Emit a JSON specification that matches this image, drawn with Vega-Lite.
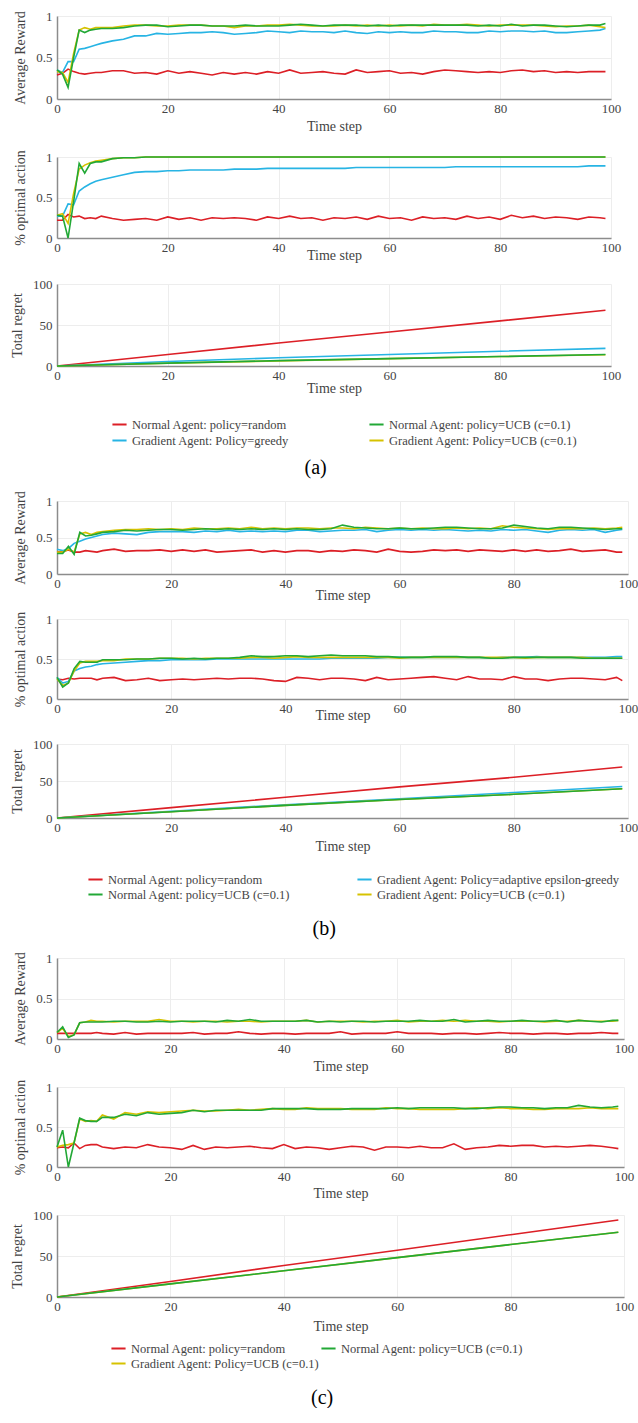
{
"$schema": "https://vega.github.io/schema/vega-lite/v6.json",
"padding": {"left": 10, "top": 10, "right": 0, "bottom": 0},
"spacing": 12,
"resolve": {"scale": {"color": "independent"}},
"datasets": {
"aR": [
{"t":0,"R":0.29,"G":0.35,"N":0.35,"U":0.33},{"t":1,"R":0.31,"G":0.32,"N":0.30,"U":0.32},{"t":2,"R":0.36,"G":0.45,"N":0.14,"U":0.20},{"t":3,"R":0.33,"G":0.45,"N":0.50,"U":0.55},{"t":4,"R":0.31,"G":0.60,"N":0.83,"U":0.83},{"t":5,"R":0.30,"G":0.61,"N":0.80,"U":0.86},{"t":6,"R":0.31,"G":0.63,"N":0.83,"U":0.84},{"t":7,"R":0.32,"G":0.65,"N":0.84,"U":0.86},{"t":8,"R":0.32,"G":0.67,"N":0.85,"U":0.86},
{"t":10,"R":0.34,"G":0.70,"N":0.85,"U":0.86},{"t":12,"R":0.34,"G":0.72,"N":0.86,"U":0.88},{"t":14,"R":0.31,"G":0.76,"N":0.88,"U":0.89},{"t":16,"R":0.32,"G":0.76,"N":0.89,"U":0.89},{"t":18,"R":0.30,"G":0.79,"N":0.89,"U":0.88},{"t":20,"R":0.34,"G":0.78,"N":0.87,"U":0.88},{"t":22,"R":0.31,"G":0.79,"N":0.88,"U":0.89},{"t":24,"R":0.33,"G":0.80,"N":0.89,"U":0.89},{"t":26,"R":0.31,"G":0.80,"N":0.89,"U":0.89},{"t":28,"R":0.29,"G":0.81,"N":0.88,"U":0.88},
{"t":30,"R":0.32,"G":0.80,"N":0.88,"U":0.88},{"t":32,"R":0.30,"G":0.78,"N":0.88,"U":0.86},{"t":34,"R":0.32,"G":0.79,"N":0.89,"U":0.88},{"t":36,"R":0.30,"G":0.80,"N":0.88,"U":0.88},{"t":38,"R":0.33,"G":0.82,"N":0.88,"U":0.89},{"t":40,"R":0.31,"G":0.81,"N":0.88,"U":0.89},{"t":42,"R":0.35,"G":0.80,"N":0.89,"U":0.90},{"t":44,"R":0.31,"G":0.82,"N":0.90,"U":0.89},{"t":46,"R":0.32,"G":0.81,"N":0.89,"U":0.88},{"t":48,"R":0.33,"G":0.81,"N":0.88,"U":0.88},
{"t":50,"R":0.31,"G":0.80,"N":0.89,"U":0.88},{"t":52,"R":0.30,"G":0.82,"N":0.89,"U":0.89},{"t":54,"R":0.35,"G":0.80,"N":0.89,"U":0.88},{"t":56,"R":0.32,"G":0.79,"N":0.88,"U":0.89},{"t":58,"R":0.33,"G":0.81,"N":0.89,"U":0.88},{"t":60,"R":0.34,"G":0.80,"N":0.88,"U":0.89},{"t":62,"R":0.31,"G":0.81,"N":0.89,"U":0.88},{"t":64,"R":0.32,"G":0.80,"N":0.89,"U":0.89},{"t":66,"R":0.30,"G":0.80,"N":0.89,"U":0.88},{"t":68,"R":0.33,"G":0.82,"N":0.89,"U":0.90},
{"t":70,"R":0.35,"G":0.81,"N":0.89,"U":0.89},{"t":72,"R":0.34,"G":0.81,"N":0.89,"U":0.89},{"t":74,"R":0.33,"G":0.80,"N":0.89,"U":0.90},{"t":76,"R":0.32,"G":0.80,"N":0.88,"U":0.89},{"t":78,"R":0.33,"G":0.82,"N":0.89,"U":0.88},{"t":80,"R":0.32,"G":0.81,"N":0.88,"U":0.89},{"t":82,"R":0.34,"G":0.82,"N":0.90,"U":0.89},{"t":84,"R":0.35,"G":0.82,"N":0.88,"U":0.89},{"t":86,"R":0.33,"G":0.81,"N":0.89,"U":0.89},{"t":88,"R":0.34,"G":0.82,"N":0.89,"U":0.88},
{"t":90,"R":0.32,"G":0.80,"N":0.88,"U":0.87},{"t":92,"R":0.33,"G":0.80,"N":0.87,"U":0.88},{"t":94,"R":0.32,"G":0.81,"N":0.88,"U":0.88},{"t":96,"R":0.33,"G":0.82,"N":0.89,"U":0.89},{"t":98,"R":0.33,"G":0.83,"N":0.89,"U":0.87},{"t":99,"R":0.33,"G":0.85,"N":0.91,"U":0.86}
],
"aO": [
{"t":0,"R":0.22,"G":0.27,"N":0.28,"U":0.28},{"t":1,"R":0.22,"G":0.27,"N":0.27,"U":0.30},{"t":2,"R":0.29,"G":0.42,"N":0.00,"U":0.18},{"t":3,"R":0.26,"G":0.41,"N":0.45,"U":0.55},{"t":4,"R":0.27,"G":0.58,"N":0.92,"U":0.85},{"t":5,"R":0.24,"G":0.63,"N":0.80,"U":0.90},{"t":6,"R":0.25,"G":0.67,"N":0.92,"U":0.93},{"t":7,"R":0.24,"G":0.70,"N":0.94,"U":0.95},{"t":8,"R":0.27,"G":0.72,"N":0.94,"U":0.96},
{"t":10,"R":0.24,"G":0.75,"N":0.98,"U":0.98},{"t":12,"R":0.22,"G":0.78,"N":0.99,"U":0.99},{"t":14,"R":0.23,"G":0.81,"N":0.99,"U":0.99},{"t":16,"R":0.24,"G":0.82,"N":1,"U":1},{"t":18,"R":0.22,"G":0.82,"N":1,"U":1},{"t":20,"R":0.26,"G":0.83,"N":1,"U":1},{"t":22,"R":0.23,"G":0.83,"N":1,"U":1},{"t":24,"R":0.25,"G":0.84,"N":1,"U":1},{"t":26,"R":0.22,"G":0.84,"N":1,"U":1},{"t":28,"R":0.25,"G":0.84,"N":1,"U":1},
{"t":30,"R":0.24,"G":0.84,"N":1,"U":1},{"t":32,"R":0.25,"G":0.85,"N":1,"U":1},{"t":34,"R":0.24,"G":0.85,"N":1,"U":1},{"t":36,"R":0.22,"G":0.85,"N":1,"U":1},{"t":38,"R":0.26,"G":0.86,"N":1,"U":1},{"t":40,"R":0.24,"G":0.86,"N":1,"U":1},{"t":42,"R":0.27,"G":0.86,"N":1,"U":1},{"t":44,"R":0.24,"G":0.86,"N":1,"U":1},{"t":46,"R":0.25,"G":0.86,"N":1,"U":1},{"t":48,"R":0.22,"G":0.86,"N":1,"U":1},
{"t":50,"R":0.25,"G":0.86,"N":1,"U":1},{"t":52,"R":0.24,"G":0.86,"N":1,"U":1},{"t":54,"R":0.26,"G":0.87,"N":1,"U":1},{"t":56,"R":0.23,"G":0.87,"N":1,"U":1},{"t":58,"R":0.27,"G":0.87,"N":1,"U":1},{"t":60,"R":0.24,"G":0.87,"N":1,"U":1},{"t":62,"R":0.25,"G":0.87,"N":1,"U":1},{"t":64,"R":0.22,"G":0.87,"N":1,"U":1},{"t":66,"R":0.26,"G":0.87,"N":1,"U":1},{"t":68,"R":0.24,"G":0.87,"N":1,"U":1},
{"t":70,"R":0.25,"G":0.87,"N":1,"U":1},{"t":72,"R":0.23,"G":0.88,"N":1,"U":1},{"t":74,"R":0.27,"G":0.88,"N":1,"U":1},{"t":76,"R":0.24,"G":0.88,"N":1,"U":1},{"t":78,"R":0.26,"G":0.88,"N":1,"U":1},{"t":80,"R":0.23,"G":0.88,"N":1,"U":1},{"t":82,"R":0.28,"G":0.88,"N":1,"U":1},{"t":84,"R":0.25,"G":0.88,"N":1,"U":1},{"t":86,"R":0.27,"G":0.88,"N":1,"U":1},{"t":88,"R":0.24,"G":0.88,"N":1,"U":1},
{"t":90,"R":0.26,"G":0.88,"N":1,"U":1},{"t":92,"R":0.25,"G":0.88,"N":1,"U":1},{"t":94,"R":0.23,"G":0.88,"N":1,"U":1},{"t":96,"R":0.26,"G":0.89,"N":1,"U":1},{"t":98,"R":0.25,"G":0.89,"N":1,"U":1},{"t":99,"R":0.24,"G":0.89,"N":1,"U":1}
],
"aG": [
{"t":0,"R":0,"G":0,"N":0,"U":0},{"t":20,"R":14,"G":5.5,"N":3.5,"U":3.3},{"t":40,"R":28,"G":10,"N":6.5,"U":6.3},{"t":60,"R":41.5,"G":14,"N":9,"U":9},{"t":80,"R":55,"G":18,"N":11.5,"U":11.5},{"t":99,"R":68,"G":21.5,"N":14,"U":13.8}
],
"bR": [
{"t":0,"R":0.30,"G":0.34,"N":0.28,"U":0.30},{"t":1,"R":0.31,"G":0.32,"N":0.28,"U":0.30},{"t":2,"R":0.33,"G":0.35,"N":0.38,"U":0.34},{"t":3,"R":0.30,"G":0.42,"N":0.27,"U":0.30},{"t":4,"R":0.30,"G":0.45,"N":0.57,"U":0.55},{"t":5,"R":0.32,"G":0.48,"N":0.52,"U":0.57},{"t":6,"R":0.31,"G":0.50,"N":0.53,"U":0.54},{"t":7,"R":0.30,"G":0.52,"N":0.55,"U":0.57},{"t":8,"R":0.32,"G":0.54,"N":0.57,"U":0.58},
{"t":10,"R":0.34,"G":0.56,"N":0.58,"U":0.60},{"t":12,"R":0.31,"G":0.55,"N":0.60,"U":0.61},{"t":14,"R":0.32,"G":0.54,"N":0.59,"U":0.61},{"t":16,"R":0.32,"G":0.57,"N":0.60,"U":0.62},{"t":18,"R":0.33,"G":0.58,"N":0.61,"U":0.61},{"t":20,"R":0.31,"G":0.58,"N":0.61,"U":0.62},{"t":22,"R":0.33,"G":0.58,"N":0.60,"U":0.61},{"t":24,"R":0.31,"G":0.57,"N":0.61,"U":0.63},{"t":26,"R":0.33,"G":0.59,"N":0.62,"U":0.62},{"t":28,"R":0.30,"G":0.58,"N":0.61,"U":0.62},
{"t":30,"R":0.31,"G":0.60,"N":0.62,"U":0.63},{"t":32,"R":0.32,"G":0.58,"N":0.61,"U":0.62},{"t":34,"R":0.33,"G":0.59,"N":0.62,"U":0.64},{"t":36,"R":0.30,"G":0.58,"N":0.61,"U":0.62},{"t":38,"R":0.32,"G":0.59,"N":0.62,"U":0.63},{"t":40,"R":0.30,"G":0.58,"N":0.61,"U":0.62},{"t":42,"R":0.32,"G":0.60,"N":0.62,"U":0.63},{"t":44,"R":0.32,"G":0.60,"N":0.61,"U":0.63},{"t":46,"R":0.30,"G":0.58,"N":0.61,"U":0.62},{"t":48,"R":0.32,"G":0.59,"N":0.62,"U":0.63},
{"t":50,"R":0.31,"G":0.60,"N":0.67,"U":0.63},{"t":52,"R":0.33,"G":0.60,"N":0.64,"U":0.62},{"t":54,"R":0.32,"G":0.61,"N":0.63,"U":0.64},{"t":56,"R":0.30,"G":0.58,"N":0.62,"U":0.63},{"t":58,"R":0.34,"G":0.60,"N":0.62,"U":0.62},{"t":60,"R":0.31,"G":0.61,"N":0.63,"U":0.63},{"t":62,"R":0.30,"G":0.60,"N":0.62,"U":0.62},{"t":64,"R":0.31,"G":0.61,"N":0.62,"U":0.63},{"t":66,"R":0.33,"G":0.60,"N":0.63,"U":0.62},{"t":68,"R":0.32,"G":0.61,"N":0.64,"U":0.62},
{"t":70,"R":0.33,"G":0.60,"N":0.64,"U":0.63},{"t":72,"R":0.31,"G":0.59,"N":0.63,"U":0.62},{"t":74,"R":0.33,"G":0.60,"N":0.62,"U":0.63},{"t":76,"R":0.32,"G":0.59,"N":0.62,"U":0.62},{"t":78,"R":0.31,"G":0.61,"N":0.63,"U":0.66},{"t":80,"R":0.33,"G":0.60,"N":0.67,"U":0.64},{"t":82,"R":0.31,"G":0.61,"N":0.65,"U":0.63},{"t":84,"R":0.33,"G":0.59,"N":0.63,"U":0.62},{"t":86,"R":0.31,"G":0.57,"N":0.62,"U":0.61},{"t":88,"R":0.32,"G":0.60,"N":0.64,"U":0.62},
{"t":90,"R":0.34,"G":0.61,"N":0.64,"U":0.62},{"t":92,"R":0.31,"G":0.60,"N":0.63,"U":0.62},{"t":94,"R":0.32,"G":0.61,"N":0.62,"U":0.63},{"t":96,"R":0.33,"G":0.57,"N":0.61,"U":0.62},{"t":98,"R":0.30,"G":0.60,"N":0.62,"U":0.63},{"t":99,"R":0.30,"G":0.61,"N":0.62,"U":0.64}
],
"bO": [
{"t":0,"R":0.25,"G":0.27,"N":0.27,"U":0.25},{"t":1,"R":0.24,"G":0.20,"N":0.15,"U":0.17},{"t":2,"R":0.26,"G":0.22,"N":0.20,"U":0.20},{"t":3,"R":0.25,"G":0.35,"N":0.38,"U":0.35},{"t":4,"R":0.26,"G":0.38,"N":0.47,"U":0.45},{"t":5,"R":0.26,"G":0.40,"N":0.46,"U":0.47},{"t":6,"R":0.26,"G":0.41,"N":0.46,"U":0.47},{"t":7,"R":0.24,"G":0.43,"N":0.46,"U":0.47},{"t":8,"R":0.26,"G":0.44,"N":0.49,"U":0.48},
{"t":10,"R":0.27,"G":0.45,"N":0.49,"U":0.48},{"t":12,"R":0.23,"G":0.46,"N":0.49,"U":0.50},{"t":14,"R":0.24,"G":0.47,"N":0.50,"U":0.50},{"t":16,"R":0.26,"G":0.48,"N":0.50,"U":0.50},{"t":18,"R":0.23,"G":0.48,"N":0.51,"U":0.51},{"t":20,"R":0.24,"G":0.49,"N":0.51,"U":0.51},{"t":22,"R":0.25,"G":0.49,"N":0.50,"U":0.51},{"t":24,"R":0.24,"G":0.49,"N":0.51,"U":0.50},{"t":26,"R":0.25,"G":0.49,"N":0.50,"U":0.51},{"t":28,"R":0.26,"G":0.50,"N":0.51,"U":0.51},
{"t":30,"R":0.25,"G":0.50,"N":0.51,"U":0.51},{"t":32,"R":0.26,"G":0.50,"N":0.52,"U":0.51},{"t":34,"R":0.26,"G":0.50,"N":0.54,"U":0.52},{"t":36,"R":0.25,"G":0.50,"N":0.53,"U":0.52},{"t":38,"R":0.23,"G":0.50,"N":0.53,"U":0.51},{"t":40,"R":0.22,"G":0.50,"N":0.54,"U":0.52},{"t":42,"R":0.27,"G":0.50,"N":0.54,"U":0.53},{"t":44,"R":0.26,"G":0.50,"N":0.53,"U":0.52},{"t":46,"R":0.24,"G":0.50,"N":0.54,"U":0.52},{"t":48,"R":0.26,"G":0.51,"N":0.55,"U":0.52},
{"t":50,"R":0.26,"G":0.51,"N":0.54,"U":0.52},{"t":52,"R":0.25,"G":0.51,"N":0.54,"U":0.52},{"t":54,"R":0.23,"G":0.51,"N":0.54,"U":0.52},{"t":56,"R":0.27,"G":0.51,"N":0.53,"U":0.52},{"t":58,"R":0.24,"G":0.52,"N":0.53,"U":0.52},{"t":60,"R":0.25,"G":0.52,"N":0.52,"U":0.51},{"t":62,"R":0.26,"G":0.52,"N":0.52,"U":0.52},{"t":64,"R":0.27,"G":0.52,"N":0.52,"U":0.52},{"t":66,"R":0.28,"G":0.52,"N":0.53,"U":0.52},{"t":68,"R":0.26,"G":0.52,"N":0.53,"U":0.52},
{"t":70,"R":0.24,"G":0.52,"N":0.53,"U":0.52},{"t":72,"R":0.28,"G":0.52,"N":0.52,"U":0.52},{"t":74,"R":0.25,"G":0.52,"N":0.52,"U":0.52},{"t":76,"R":0.25,"G":0.51,"N":0.51,"U":0.52},{"t":78,"R":0.24,"G":0.52,"N":0.51,"U":0.52},{"t":80,"R":0.28,"G":0.52,"N":0.52,"U":0.52},{"t":82,"R":0.25,"G":0.52,"N":0.52,"U":0.51},{"t":84,"R":0.25,"G":0.53,"N":0.52,"U":0.52},{"t":86,"R":0.23,"G":0.52,"N":0.52,"U":0.52},{"t":88,"R":0.25,"G":0.52,"N":0.52,"U":0.52},
{"t":90,"R":0.26,"G":0.52,"N":0.52,"U":0.52},{"t":92,"R":0.26,"G":0.52,"N":0.51,"U":0.52},{"t":94,"R":0.25,"G":0.52,"N":0.51,"U":0.51},{"t":96,"R":0.24,"G":0.52,"N":0.51,"U":0.51},{"t":98,"R":0.27,"G":0.53,"N":0.51,"U":0.51},{"t":99,"R":0.23,"G":0.53,"N":0.51,"U":0.51}
],
"bG": [
{"t":0,"R":0,"G":0,"N":0,"U":0},{"t":20,"R":14,"G":9,"N":8.5,"U":8.5},{"t":40,"R":28,"G":18,"N":17,"U":17},{"t":60,"R":42,"G":26,"N":25,"U":25},{"t":80,"R":55,"G":34.5,"N":32,"U":32},{"t":99,"R":69,"G":42.5,"N":39.5,"U":39.5}
],
"cR": [
{"t":0,"R":0.07,"N":0.08,"U":0.08},{"t":1,"R":0.07,"N":0.15,"U":0.13},{"t":2,"R":0.07,"N":0.02,"U":0.03},{"t":3,"R":0.07,"N":0.05,"U":0.05},{"t":4,"R":0.07,"N":0.20,"U":0.20},{"t":5,"R":0.07,"N":0.21,"U":0.21},{"t":6,"R":0.07,"N":0.21,"U":0.23},{"t":7,"R":0.08,"N":0.21,"U":0.22},{"t":8,"R":0.07,"N":0.21,"U":0.22},
{"t":10,"R":0.06,"N":0.22,"U":0.21},{"t":12,"R":0.08,"N":0.22,"U":0.22},{"t":14,"R":0.06,"N":0.21,"U":0.22},{"t":16,"R":0.07,"N":0.21,"U":0.22},{"t":18,"R":0.07,"N":0.22,"U":0.24},{"t":20,"R":0.07,"N":0.21,"U":0.22},{"t":22,"R":0.07,"N":0.22,"U":0.22},{"t":24,"R":0.08,"N":0.22,"U":0.21},{"t":26,"R":0.06,"N":0.22,"U":0.22},{"t":28,"R":0.07,"N":0.21,"U":0.22},
{"t":30,"R":0.07,"N":0.23,"U":0.21},{"t":32,"R":0.09,"N":0.22,"U":0.22},{"t":34,"R":0.07,"N":0.24,"U":0.22},{"t":36,"R":0.06,"N":0.22,"U":0.21},{"t":38,"R":0.07,"N":0.22,"U":0.22},{"t":40,"R":0.07,"N":0.22,"U":0.22},{"t":42,"R":0.06,"N":0.22,"U":0.22},{"t":44,"R":0.07,"N":0.23,"U":0.23},{"t":46,"R":0.07,"N":0.21,"U":0.21},{"t":48,"R":0.07,"N":0.22,"U":0.22},
{"t":50,"R":0.09,"N":0.21,"U":0.22},{"t":52,"R":0.06,"N":0.22,"U":0.22},{"t":54,"R":0.07,"N":0.22,"U":0.21},{"t":56,"R":0.07,"N":0.21,"U":0.22},{"t":58,"R":0.07,"N":0.22,"U":0.22},{"t":60,"R":0.09,"N":0.22,"U":0.23},{"t":62,"R":0.07,"N":0.22,"U":0.21},{"t":64,"R":0.07,"N":0.23,"U":0.22},{"t":66,"R":0.07,"N":0.22,"U":0.22},{"t":68,"R":0.06,"N":0.22,"U":0.23},
{"t":70,"R":0.07,"N":0.24,"U":0.22},{"t":72,"R":0.07,"N":0.21,"U":0.23},{"t":74,"R":0.06,"N":0.22,"U":0.22},{"t":76,"R":0.07,"N":0.23,"U":0.22},{"t":78,"R":0.08,"N":0.22,"U":0.21},{"t":80,"R":0.07,"N":0.22,"U":0.22},{"t":82,"R":0.07,"N":0.23,"U":0.22},{"t":84,"R":0.06,"N":0.22,"U":0.22},{"t":86,"R":0.07,"N":0.22,"U":0.21},{"t":88,"R":0.07,"N":0.23,"U":0.22},
{"t":90,"R":0.06,"N":0.21,"U":0.22},{"t":92,"R":0.07,"N":0.23,"U":0.23},{"t":94,"R":0.07,"N":0.22,"U":0.22},{"t":96,"R":0.08,"N":0.21,"U":0.22},{"t":98,"R":0.07,"N":0.23,"U":0.22},{"t":99,"R":0.07,"N":0.23,"U":0.23}
],
"cO": [
{"t":0,"R":0.24,"N":0.25,"U":0.25},{"t":1,"R":0.25,"N":0.46,"U":0.27},{"t":2,"R":0.24,"N":0.00,"U":0.28},{"t":3,"R":0.30,"N":0.30,"U":0.30},{"t":4,"R":0.23,"N":0.61,"U":0.60},{"t":5,"R":0.27,"N":0.58,"U":0.57},{"t":6,"R":0.28,"N":0.57,"U":0.58},{"t":7,"R":0.28,"N":0.57,"U":0.57},{"t":8,"R":0.25,"N":0.62,"U":0.65},
{"t":10,"R":0.23,"N":0.62,"U":0.60},{"t":12,"R":0.25,"N":0.66,"U":0.68},{"t":14,"R":0.24,"N":0.64,"U":0.66},{"t":16,"R":0.28,"N":0.68,"U":0.69},{"t":18,"R":0.25,"N":0.66,"U":0.68},{"t":20,"R":0.24,"N":0.67,"U":0.69},{"t":22,"R":0.22,"N":0.68,"U":0.70},{"t":24,"R":0.27,"N":0.71,"U":0.71},{"t":26,"R":0.22,"N":0.69,"U":0.70},{"t":28,"R":0.25,"N":0.71,"U":0.70},
{"t":30,"R":0.24,"N":0.71,"U":0.71},{"t":32,"R":0.25,"N":0.71,"U":0.72},{"t":34,"R":0.26,"N":0.71,"U":0.71},{"t":36,"R":0.24,"N":0.71,"U":0.72},{"t":38,"R":0.23,"N":0.73,"U":0.73},{"t":40,"R":0.28,"N":0.73,"U":0.72},{"t":42,"R":0.23,"N":0.73,"U":0.72},{"t":44,"R":0.25,"N":0.73,"U":0.74},{"t":46,"R":0.24,"N":0.72,"U":0.73},{"t":48,"R":0.22,"N":0.72,"U":0.73},
{"t":50,"R":0.24,"N":0.72,"U":0.73},{"t":52,"R":0.26,"N":0.73,"U":0.72},{"t":54,"R":0.25,"N":0.73,"U":0.72},{"t":56,"R":0.21,"N":0.73,"U":0.72},{"t":58,"R":0.25,"N":0.73,"U":0.74},{"t":60,"R":0.25,"N":0.74,"U":0.73},{"t":62,"R":0.24,"N":0.73,"U":0.73},{"t":64,"R":0.26,"N":0.74,"U":0.72},{"t":66,"R":0.24,"N":0.74,"U":0.72},{"t":68,"R":0.24,"N":0.74,"U":0.72},
{"t":70,"R":0.29,"N":0.74,"U":0.72},{"t":72,"R":0.22,"N":0.73,"U":0.73},{"t":74,"R":0.24,"N":0.73,"U":0.74},{"t":76,"R":0.25,"N":0.74,"U":0.73},{"t":78,"R":0.27,"N":0.75,"U":0.74},{"t":80,"R":0.26,"N":0.75,"U":0.73},{"t":82,"R":0.27,"N":0.74,"U":0.73},{"t":84,"R":0.27,"N":0.74,"U":0.72},{"t":86,"R":0.25,"N":0.73,"U":0.72},{"t":88,"R":0.26,"N":0.74,"U":0.73},
{"t":90,"R":0.25,"N":0.74,"U":0.73},{"t":92,"R":0.26,"N":0.77,"U":0.73},{"t":94,"R":0.27,"N":0.75,"U":0.74},{"t":96,"R":0.26,"N":0.74,"U":0.73},{"t":98,"R":0.24,"N":0.75,"U":0.73},{"t":99,"R":0.23,"N":0.76,"U":0.73}
],
"cG": [
{"t":0,"R":0,"N":0,"U":0},{"t":20,"R":19,"N":16,"U":16},{"t":40,"R":38.5,"N":32,"U":32},{"t":60,"R":57,"N":48,"U":48},{"t":80,"R":76,"N":64,"U":64},{"t":99,"R":94,"N":79,"U":79}
]
},
"vconcat": [
{
"title": {"text": "(a)", "orient": "bottom", "anchor": "middle", "offset": 11},
"spacing": 16,
"vconcat": [
{"width": 554, "height": 83, "data": {"name": "aR"},
 "transform": [{"fold": ["R","G","U","N"], "as": ["s","v"]}],
 "mark": {"type": "line", "strokeWidth": 1.6},
 "encoding": {
  "x": {"field": "t", "type": "quantitative", "scale": {"domain": [0,100]}, "axis": {"values": [0,20,40,60,80,100], "title": "Time step", "titlePadding": 4}},
  "y": {"field": "v", "type": "quantitative", "scale": {"domain": [0,1]}, "axis": {"values": [0,0.5,1], "format": "~g", "title": "Average Reward"}},
  "color": {"field": "s", "type": "nominal", "sort": null, "scale": {"domain": ["R","N","G","U"], "range": ["#dc1f26","#22a836","#27b4e4","#d6c200"]},
   "legend": {"orient": "none", "legendX": 54, "legendY": 400, "direction": "horizontal", "columns": 2, "columnPadding": 75, "rowPadding": 1, "labelExpr": "datum.label=='R'?'Normal Agent: policy=random':datum.label=='N'?'Normal Agent: policy=UCB (c=0.1)':datum.label=='G'?'Gradient Agent: Policy=greedy':'Gradient Agent: Policy=UCB (c=0.1)'"}}
 }},
{"width": 554, "height": 81, "data": {"name": "aO"},
 "transform": [{"fold": ["R","G","U","N"], "as": ["s","v"]}],
 "mark": {"type": "line", "strokeWidth": 1.6},
 "encoding": {
  "x": {"field": "t", "type": "quantitative", "scale": {"domain": [0,100]}, "axis": {"values": [0,20,40,60,80,100], "title": "Time step", "titlePadding": -6}},
  "y": {"field": "v", "type": "quantitative", "scale": {"domain": [0,1]}, "axis": {"values": [0,0.5,1], "format": "~g", "title": "% optimal action"}},
  "color": {"field": "s", "type": "nominal", "sort": null, "scale": {"domain": ["R","N","G","U"], "range": ["#dc1f26","#22a836","#27b4e4","#d6c200"]},
   "legend": {"orient": "none", "legendX": 54, "legendY": 400, "direction": "horizontal", "columns": 2, "columnPadding": 75, "rowPadding": 1, "labelExpr": "datum.label=='R'?'Normal Agent: policy=random':datum.label=='N'?'Normal Agent: policy=UCB (c=0.1)':datum.label=='G'?'Gradient Agent: Policy=greedy':'Gradient Agent: Policy=UCB (c=0.1)'"}}
 }},
{"width": 554, "height": 82, "data": {"name": "aG"},
 "transform": [{"fold": ["R","G","U","N"], "as": ["s","v"]}],
 "mark": {"type": "line", "strokeWidth": 1.6},
 "encoding": {
  "x": {"field": "t", "type": "quantitative", "scale": {"domain": [0,100]}, "axis": {"values": [0,20,40,60,80,100], "title": "Time step", "titlePadding": -1}},
  "y": {"field": "v", "type": "quantitative", "scale": {"domain": [0,100]}, "axis": {"values": [0,50,100], "title": "Total regret"}},
  "color": {"field": "s", "type": "nominal", "sort": null, "scale": {"domain": ["R","N","G","U"], "range": ["#dc1f26","#22a836","#27b4e4","#d6c200"]},
   "legend": {"orient": "none", "legendX": 54, "legendY": 400, "direction": "horizontal", "columns": 2, "columnPadding": 75, "rowPadding": 1, "labelExpr": "datum.label=='R'?'Normal Agent: policy=random':datum.label=='N'?'Normal Agent: policy=UCB (c=0.1)':datum.label=='G'?'Gradient Agent: Policy=greedy':'Gradient Agent: Policy=UCB (c=0.1)'"}}
 }}
]
},
{
"title": {"text": "(b)", "orient": "bottom", "anchor": "middle", "offset": 18},
"bounds": "flush",
"spacing": 45,
"vconcat": [
{"width": 571, "height": 73, "data": {"name": "bR"},
 "transform": [{"fold": ["R","G","U","N"], "as": ["s","v"]}],
 "mark": {"type": "line", "strokeWidth": 1.6},
 "encoding": {
  "x": {"field": "t", "type": "quantitative", "scale": {"domain": [0,100]}, "axis": {"values": [0,20,40,60,80,100], "title": "Time step", "titlePadding": -2}},
  "y": {"field": "v", "type": "quantitative", "scale": {"domain": [0,1]}, "axis": {"values": [0,0.5,1], "format": "~g", "title": "Average Reward"}},
  "color": {"field": "s", "type": "nominal", "sort": null, "scale": {"domain": ["R","G","N","U"], "range": ["#dc1f26","#27b4e4","#22a836","#d6c200"]},
   "legend": {"orient": "none", "legendX": 30, "legendY": 370, "direction": "horizontal", "columns": 2, "columnPadding": 62, "rowPadding": 0, "labelExpr": "datum.label=='R'?'Normal Agent: policy=random':datum.label=='N'?'Normal Agent: policy=UCB (c=0.1)':datum.label=='G'?'Gradient Agent: Policy=adaptive epsilon-greedy':'Gradient Agent: Policy=UCB (c=0.1)'"}}
 }},
{"width": 571, "height": 80, "data": {"name": "bO"},
 "transform": [{"fold": ["R","G","U","N"], "as": ["s","v"]}],
 "mark": {"type": "line", "strokeWidth": 1.6},
 "encoding": {
  "x": {"field": "t", "type": "quantitative", "scale": {"domain": [0,100]}, "axis": {"values": [0,20,40,60,80,100], "title": "Time step", "titlePadding": -7}},
  "y": {"field": "v", "type": "quantitative", "scale": {"domain": [0,1]}, "axis": {"values": [0,0.5,1], "format": "~g", "title": "% optimal action"}},
  "color": {"field": "s", "type": "nominal", "sort": null, "scale": {"domain": ["R","G","N","U"], "range": ["#dc1f26","#27b4e4","#22a836","#d6c200"]},
   "legend": {"orient": "none", "legendX": 30, "legendY": 370, "direction": "horizontal", "columns": 2, "columnPadding": 62, "rowPadding": 0, "labelExpr": "datum.label=='R'?'Normal Agent: policy=random':datum.label=='N'?'Normal Agent: policy=UCB (c=0.1)':datum.label=='G'?'Gradient Agent: Policy=adaptive epsilon-greedy':'Gradient Agent: Policy=UCB (c=0.1)'"}}
 }},
{"width": 571, "height": 74, "data": {"name": "bG"},
 "transform": [{"fold": ["R","G","U","N"], "as": ["s","v"]}],
 "mark": {"type": "line", "strokeWidth": 1.6},
 "encoding": {
  "x": {"field": "t", "type": "quantitative", "scale": {"domain": [0,100]}, "axis": {"values": [0,20,40,60,80,100], "title": "Time step", "titlePadding": 5}},
  "y": {"field": "v", "type": "quantitative", "scale": {"domain": [0,100]}, "axis": {"values": [0,50,100], "title": "Total regret"}},
  "color": {"field": "s", "type": "nominal", "sort": null, "scale": {"domain": ["R","G","N","U"], "range": ["#dc1f26","#27b4e4","#22a836","#d6c200"]},
   "legend": {"orient": "none", "legendX": 30, "legendY": 370, "direction": "horizontal", "columns": 2, "columnPadding": 62, "rowPadding": 0, "labelExpr": "datum.label=='R'?'Normal Agent: policy=random':datum.label=='N'?'Normal Agent: policy=UCB (c=0.1)':datum.label=='G'?'Gradient Agent: Policy=adaptive epsilon-greedy':'Gradient Agent: Policy=UCB (c=0.1)'"}}
 }}
]
},
{
"title": {"text": "(c)", "orient": "bottom", "anchor": "middle", "offset": 18},
"bounds": "flush",
"spacing": 48,
"vconcat": [
{"width": 567, "height": 81, "data": {"name": "cR"},
 "transform": [{"fold": ["R","U","N"], "as": ["s","v"]}],
 "mark": {"type": "line", "strokeWidth": 1.6},
 "encoding": {
  "x": {"field": "t", "type": "quantitative", "scale": {"domain": [0,100]}, "axis": {"values": [0,20,40,60,80,100], "title": "Time step", "titlePadding": 4}},
  "y": {"field": "v", "type": "quantitative", "scale": {"domain": [0,1]}, "axis": {"values": [0,0.5,1], "format": "~g", "title": "Average Reward"}},
  "color": {"field": "s", "type": "nominal", "sort": null, "scale": {"domain": ["R","N","U"], "range": ["#dc1f26","#22a836","#d6c200"]},
   "legend": {"orient": "none", "legendX": 53, "legendY": 382, "direction": "horizontal", "columns": 2, "columnPadding": -6, "rowPadding": 0, "labelExpr": "datum.label=='R'?'Normal Agent: policy=random':datum.label=='N'?'Normal Agent: policy=UCB (c=0.1)':'Gradient Agent: Policy=UCB (c=0.1)'"}}
 }},
{"width": 567, "height": 80, "data": {"name": "cO"},
 "transform": [{"fold": ["R","U","N"], "as": ["s","v"]}],
 "mark": {"type": "line", "strokeWidth": 1.6},
 "encoding": {
  "x": {"field": "t", "type": "quantitative", "scale": {"domain": [0,100]}, "axis": {"values": [0,20,40,60,80,100], "title": "Time step", "titlePadding": 3}},
  "y": {"field": "v", "type": "quantitative", "scale": {"domain": [0,1]}, "axis": {"values": [0,0.5,1], "format": "~g", "title": "% optimal action"}},
  "color": {"field": "s", "type": "nominal", "sort": null, "scale": {"domain": ["R","N","U"], "range": ["#dc1f26","#22a836","#d6c200"]},
   "legend": {"orient": "none", "legendX": 53, "legendY": 382, "direction": "horizontal", "columns": 2, "columnPadding": -6, "rowPadding": 0, "labelExpr": "datum.label=='R'?'Normal Agent: policy=random':datum.label=='N'?'Normal Agent: policy=UCB (c=0.1)':'Gradient Agent: Policy=UCB (c=0.1)'"}}
 }},
{"width": 567, "height": 82, "data": {"name": "cG"},
 "transform": [{"fold": ["R","U","N"], "as": ["s","v"]}],
 "mark": {"type": "line", "strokeWidth": 1.6},
 "encoding": {
  "x": {"field": "t", "type": "quantitative", "scale": {"domain": [0,100]}, "axis": {"values": [0,20,40,60,80,100], "title": "Time step", "titlePadding": 6}},
  "y": {"field": "v", "type": "quantitative", "scale": {"domain": [0,100]}, "axis": {"values": [0,50,100], "title": "Total regret"}},
  "color": {"field": "s", "type": "nominal", "sort": null, "scale": {"domain": ["R","N","U"], "range": ["#dc1f26","#22a836","#d6c200"]},
   "legend": {"orient": "none", "legendX": 53, "legendY": 382, "direction": "horizontal", "columns": 2, "columnPadding": -6, "rowPadding": 0, "labelExpr": "datum.label=='R'?'Normal Agent: policy=random':datum.label=='N'?'Normal Agent: policy=UCB (c=0.1)':'Gradient Agent: Policy=UCB (c=0.1)'"}}
 }}
]
}
],
"config": {
 "font": "Liberation Serif",
 "view": {"stroke": null},
 "axis": {"domainColor": "#8c8c8c", "domainWidth": 1.5, "ticks": false, "grid": true, "gridColor": "#ededed", "labelFont": "Liberation Serif", "labelFontSize": 13, "labelColor": "#444", "labelFlush": false, "labelPadding": 3, "titleFont": "Liberation Serif", "titleFontSize": 14, "titleFontWeight": "normal", "titleColor": "#444"},
 "axisY": {"labelPadding": 5, "titlePadding": 8},
 "legend": {"title": null, "symbolType": "stroke", "symbolSize": 200, "symbolStrokeWidth": 2, "labelFont": "Liberation Serif", "labelFontSize": 12.5, "labelColor": "#444", "labelLimit": 400, "labelOffset": 4},
 "title": {"font": "Liberation Serif", "fontSize": 20, "fontWeight": "normal", "color": "#000"}
}
}
